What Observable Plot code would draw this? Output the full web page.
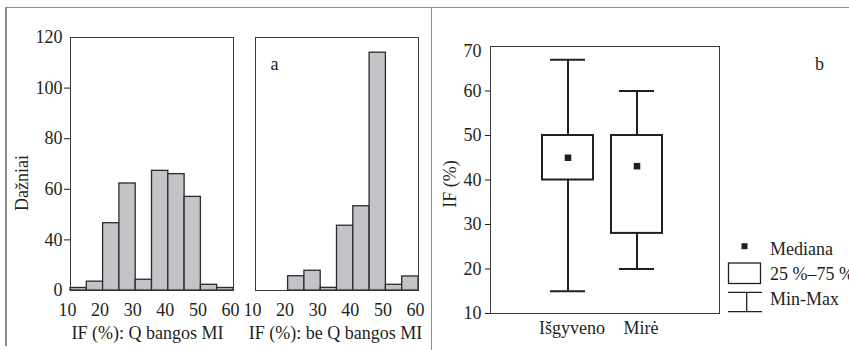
<!DOCTYPE html>
<html>
<head>
<meta charset="utf-8">
<script src="https://cdn.jsdelivr.net/npm/d3@7"></script>
<script src="https://cdn.jsdelivr.net/npm/@observablehq/plot@0.6"></script>
<style>
  html, body { margin: 0; padding: 0; background: #fff; }
  #wrap { position: relative; width: 849px; height: 350px; overflow: hidden; font-family: "Liberation Serif", serif; color: #231f20; }
  .panel { position: absolute; top: 0; }
  .rule { position: absolute; background: #8d8d8d; }
  #legend { position: absolute; left: 700px; top: 230px; }
</style>
</head>
<body>
<div id="wrap">
  <div class="rule" style="left:5px; top:6.5px; width:844px; height:1.6px;"></div>
  <div class="rule" style="left:5px; top:6.5px; width:1.8px; height:339px;"></div>
  <div class="rule" style="left:430.8px; top:6.5px; width:1.6px; height:344px;"></div>
  <div class="panel" id="p1" style="left:0px;"></div>
  <div class="panel" id="p2" style="left:240px;"></div>
  <div class="panel" id="p3" style="left:432px;"></div>
  <svg id="legend" width="149" height="90" font-family="Liberation Serif, serif" font-size="18" fill="#231f20">
    <rect x="41.5" y="13.2" width="6" height="6" fill="#231f20"></rect>
    <text x="70" y="24.5">Mediana</text>
    <rect x="28.5" y="33" width="32" height="20.5" fill="none" stroke="#231f20" stroke-width="1.3"></rect>
    <text x="70" y="49.5">25 %–75 %</text>
    <g stroke="#231f20" stroke-width="1.3">
      <line x1="28" x2="62" y1="62.3" y2="62.3"></line>
      <line x1="46.7" x2="46.7" y1="62.3" y2="81.7"></line>
      <line x1="28" x2="62" y1="81.7" y2="81.7"></line>
    </g>
    <text x="70" y="74.5">Min-Max</text>
  </svg>
</div>
<script>
// ---- Data ----
const binEdges = [10, 15, 20, 25, 30, 35, 40, 45, 50, 55, 60];
const countsQ = [2, 7, 46.6, 62.3, 8.5, 67.3, 66, 57, 4.5, 2];
const countsNoQ = [0, 0, 11.3, 15.6, 2.1, 45.6, 53.3, 114, 4.5, 11.1];
const histXTicks = [10, 20, 30, 40, 50, 60];
const histYTicksInner = [40, 60, 80, 100];
const histYTicksEnds = [0, 120];

const groups = ["Išgyveno", "Mirė"];
const minVals = [15, 20];
const q1Vals = [40, 28];
const medianVals = [45, 43.1];
const q3Vals = [50, 50];
const maxVals = [67, 60];
const boxYTicks = [10, 20, 30, 40, 50, 60];

// ---- Styles ----
const ink = "#231f20";
const barFill = "#c3c4c8";
const baseStyle = { fontFamily: "Liberation Serif, serif", fontSize: "18px", color: ink, background: "transparent", overflow: "visible" };

// ---- Histograms ----
const H = 350;
// The figure's count axis is broken: 0..40 occupies the same height as one 20-step above 40.
const yDisp = n => (n <= 40 ? 20 + n / 2 : n);

function bins(counts) {
  return binEdges.slice(0, -1)
    .map((x1, i) => ({ x1, x2: binEdges[i + 1], n: counts[i] }))
    .filter(d => d.n > 0);
}

function histogram(counts, { width, marginLeft, marginRight, showY, title, titleDx, tag }) {
  return Plot.plot({
    width, height: H, marginTop: 37, marginBottom: 60, marginLeft, marginRight,
    style: baseStyle,
    x: { domain: [10, 60] },
    y: { domain: [yDisp(0), yDisp(120)], axis: showY ? undefined : null },
    marks: [
      Plot.rect(bins(counts), { x1: "x1", x2: "x2", y1: () => yDisp(0), y2: d => yDisp(d.n), fill: barFill, stroke: "#2b2b2b", strokeWidth: 1.3 }),
      Plot.frame({ stroke: "#3a3a3a", strokeWidth: 1 }),
      Plot.axisX({ ticks: histXTicks, tickSize: 0, tickPadding: 13, dx: -3, label: null }),
      showY ? Plot.axisY({ ticks: histYTicksInner.map(yDisp), tickFormat: (d, i) => histYTicksInner[i], tickSize: 6, tickPadding: 2, label: null }) : null,
      showY ? Plot.axisY({ ticks: histYTicksEnds.map(yDisp), tickFormat: (d, i) => histYTicksEnds[i], tickSize: 0, tickPadding: 8, dy: 0, label: null }) : null,
      showY ? Plot.text(["Dažniai"], { frameAnchor: "left", rotate: -90, dx: -48, dy: 19, textAnchor: "middle", lineAnchor: "middle" }) : null,
      Plot.text([title], { frameAnchor: "bottom", dy: 43, dx: titleDx, textAnchor: "middle", lineAnchor: "middle" }),
      tag ? Plot.text([tag], { frameAnchor: "top-left", dx: 19, dy: 27, textAnchor: "middle", lineAnchor: "middle" }) : null
    ]
  });
}

document.getElementById("p1").append(histogram(countsQ, {
  width: 240, marginLeft: 70, marginRight: 7, showY: true, title: "IF (%): Q bangos MI", titleDx: -4.5
}));
document.getElementById("p2").append(histogram(countsNoQ, {
  width: 190, marginLeft: 15, marginRight: 12, showY: false, title: "IF (%): be Q bangos MI", titleDx: -1.5, tag: "a"
}));

// ---- Box plot ----
const boxes = groups.map((g, i) => ({ g, min: minVals[i], q1: q1Vals[i], med: medianVals[i], q3: q3Vals[i], max: maxVals[i] }));

const boxPlot = Plot.plot({
  width: 417, height: H, marginTop: 46, marginBottom: 37, marginLeft: 58, marginRight: 130,
  style: baseStyle,
  x: { type: "band", domain: groups, paddingInner: 0.262, paddingOuter: 0.767, align: 0.477 },
  y: { domain: [10, 70] },
  marks: [
    Plot.frame({ stroke: "#3a3a3a", strokeWidth: 1 }),
    Plot.ruleX(boxes, { x: "g", y1: "min", y2: "q1", stroke: ink, strokeWidth: 2 }),
    Plot.ruleX(boxes, { x: "g", y1: "q3", y2: "max", stroke: ink, strokeWidth: 2 }),
    Plot.barY(boxes, { x: "g", y1: "q1", y2: "q3", fill: "white", stroke: ink, strokeWidth: 2 }),
    Plot.tickY(boxes, { x: "g", y: "min", inset: 8, stroke: ink, strokeWidth: 2 }),
    Plot.tickY(boxes, { x: "g", y: "max", inset: 8, stroke: ink, strokeWidth: 2 }),
    Plot.dot(boxes, { x: "g", y: "med", symbol: "square", r: 3.7, fill: ink, stroke: null }),
    Plot.axisY({ ticks: boxYTicks, tickSize: 5, tickPadding: 4, label: null }),
    Plot.axisY({ ticks: [70], tickSize: 0, tickPadding: 9, dy: 5, label: null }),
    Plot.axisX({ tickSize: 0, tickPadding: 8, dx: 4, label: null }),
    Plot.text(["IF (%)"], { frameAnchor: "left", rotate: -90, dx: -40, dy: 4, textAnchor: "middle", lineAnchor: "middle" }),
    Plot.text(["b"], { frameAnchor: "top-right", dx: 100, dy: 18, textAnchor: "middle", lineAnchor: "middle" })
  ]
});
document.getElementById("p3").append(boxPlot);
</script>
</body>
</html>
